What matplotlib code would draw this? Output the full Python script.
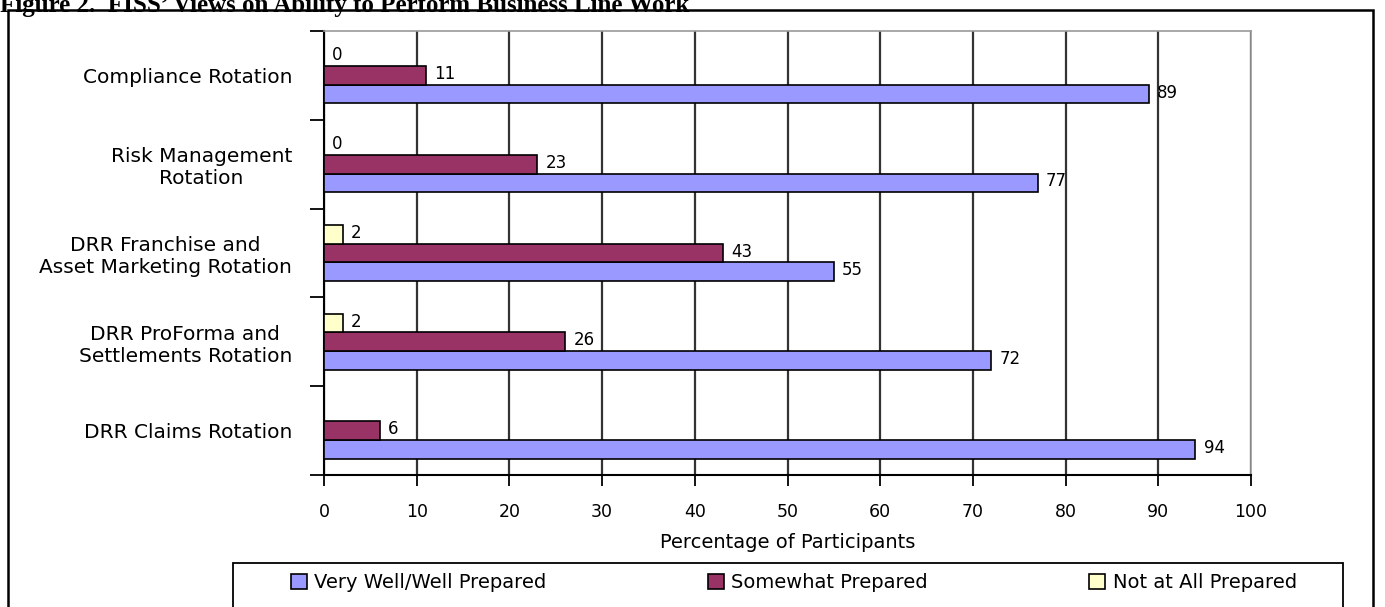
import numpy as np
import matplotlib
matplotlib.use("Agg")
import matplotlib.pyplot as plt
from matplotlib.patches import Rectangle
from matplotlib.ticker import FixedLocator

# ---------- data ----------
categories = [
    "Compliance Rotation",
    "Risk Management\nRotation",
    "DRR Franchise and\nAsset Marketing Rotation",
    "DRR ProForma and\nSettlements Rotation",
    "DRR Claims Rotation",
]
very_well = [89, 77, 55, 72, 94]
somewhat = [11, 23, 43, 26, 6]
not_at_all = [0, 0, 2, 2, np.nan]   # no value shown for Claims

series_names = ["Very Well/Well Prepared", "Somewhat Prepared", "Not at All Prepared"]
colors = ["#9999FF", "#993366", "#FFFFCC"]

title = "Figure 2.  FISS\u2019 Views on Ability to Perform Business Line Work"
xlabel = "Percentage of Participants"

W, H = 1385, 607
fig = plt.figure(figsize=(W / 100, H / 100), dpi=100)
font = "DejaVu Sans"

ax = fig.add_axes([324 / W, 1 - 475 / H, (1251 - 324) / W, (475 - 31) / H])

n = len(categories)
y = np.arange(n)[::-1].astype(float)
h = 0.21
offsets = [-h, 0.0, h]
for vals, name, col, off in zip([very_well, somewhat, not_at_all], series_names, colors, offsets):
    v = np.array(vals, dtype=float)
    bars = ax.barh(y + off, np.nan_to_num(v), height=h, color=col,
                   edgecolor="black", linewidth=1.2, label=name, zorder=3)
    for b, val in zip(bars, v):
        if np.isnan(val):
            continue
        ax.annotate(f"{val:.0f}", (b.get_width(), b.get_y() + b.get_height() / 2),
                    xytext=(6, 1), textcoords="offset points", va="center",
                    ha="left", fontsize=12, family=font, zorder=4)

ax.set_xlim(0, 100)
ax.set_ylim(-0.5, n - 0.5)
ax.set_xticks(np.arange(0, 101, 10))
ax.xaxis.grid(True, color="#333333", linewidth=1.6, zorder=0)
ax.set_axisbelow(True)

ax.set_yticks(y)
ax.set_yticklabels(categories, fontsize=14.5, family=font, ha="right",
                   multialignment="center")
ax.tick_params(axis="y", length=0, pad=23)
ax.yaxis.set_minor_locator(FixedLocator(np.arange(-0.5, n, 1.0)))
ax.tick_params(axis="y", which="minor", length=10, width=1.3, direction="out")
ax.tick_params(axis="x", length=8, width=1.3, direction="out", pad=12,
               labelsize=12.5)
for lab in ax.get_xticklabels():
    lab.set_family(font)

for s in ["left", "bottom"]:
    ax.spines[s].set_linewidth(1.5)
for s in ["top", "right"]:
    ax.spines[s].set_color("#999999")
    ax.spines[s].set_linewidth(1.2)

ax.set_xlabel(xlabel, fontsize=14, family=font, labelpad=9)

# legend: frame drawn separately, entries centred inside
handles, labels = ax.get_legend_handles_labels()
leg = fig.legend(handles, labels, loc="center", ncol=3, frameon=False,
                 bbox_to_anchor=(794 / W, 1 - 583 / H),
                 prop={"family": font, "size": 14},
                 handlelength=0.8, handleheight=0.8, handletextpad=0.4,
                 columnspacing=8.3)
fig.add_artist(Rectangle((233 / W, -0.05), (1343 - 233) / W, 0.05 + (H - 563) / H,
                         transform=fig.transFigure, fill=False,
                         edgecolor="black", linewidth=1.3))

# outer border (bottom edge runs off the page)
fig.add_artist(Rectangle((8 / W, -0.05), (1373 - 8) / W, 0.05 + (H - 10) / H,
                         transform=fig.transFigure, fill=False,
                         edgecolor="black", linewidth=1.8))

# title, partly cut off by the top of the page
fig.text(0.0, 1 - 12 / H, title, ha="left", va="baseline", fontsize=18,
         fontweight="bold", family="Liberation Serif")

fig.savefig("out.png", dpi=100)
